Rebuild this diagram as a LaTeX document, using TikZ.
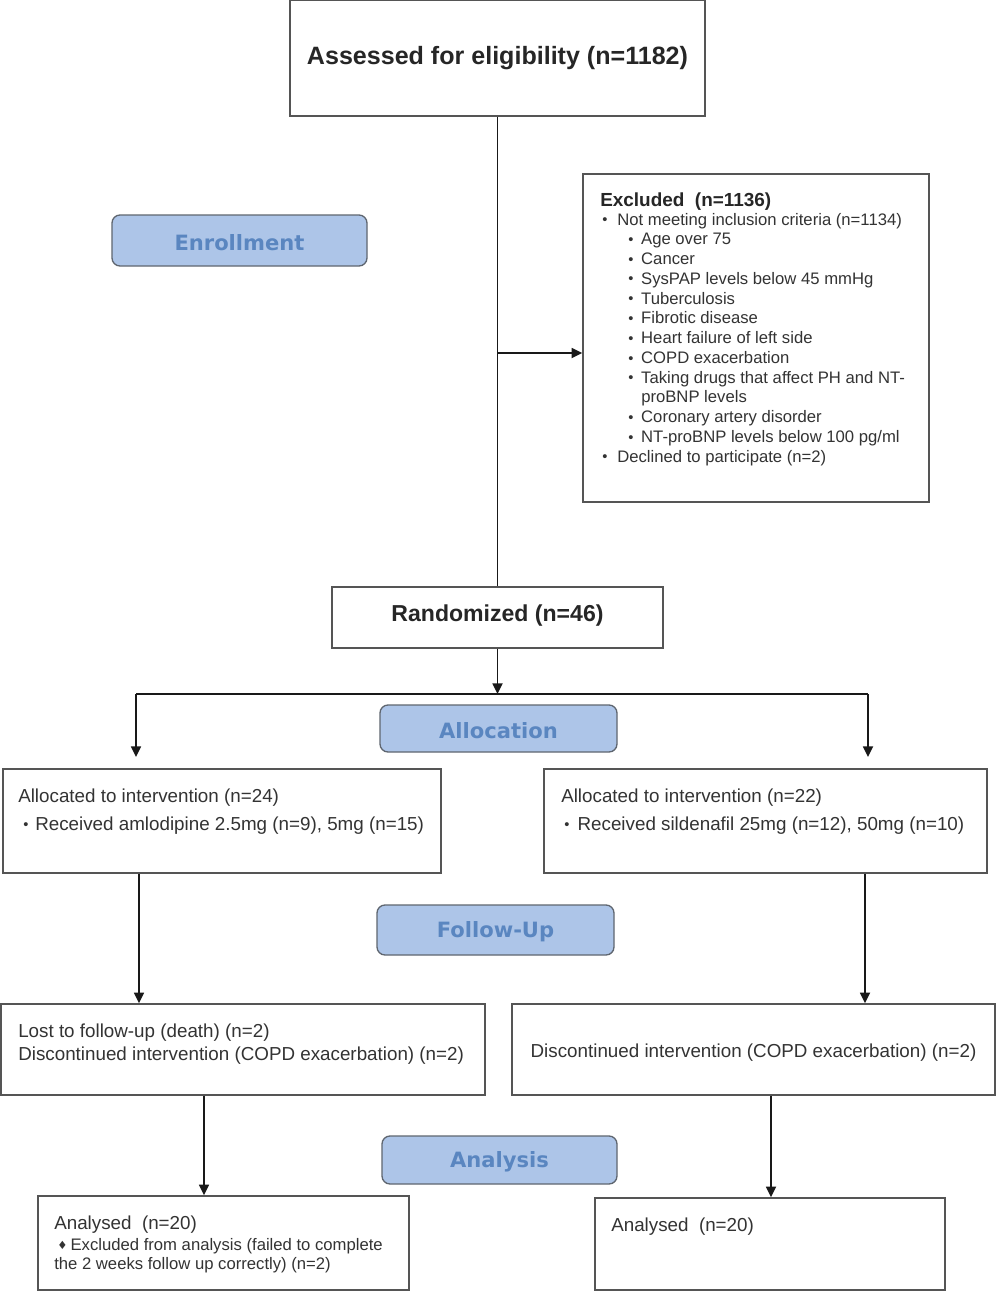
\documentclass[tikz,border=0pt]{standalone}
\usepackage{fontspec}
\setmainfont{Liberation Sans}
\newfontfamily\dejavu{DejaVu Sans}
\usetikzlibrary{arrows.meta,fit}
\definecolor{txt}{HTML}{333333}
\definecolor{bord}{HTML}{555555}
\definecolor{lblfill}{HTML}{ADC5E8}
\definecolor{lbltext}{HTML}{5A86C0}
\definecolor{lblbord}{HTML}{5F6670}
\newcommand\bul[1]{\makebox[#1][l]{\raisebox{0.3pt}{\fontsize{11}{11}\selectfont\textbullet}}}
\newcommand\dia[1]{\makebox[#1][l]{\raisebox{0.5pt}{\dejavu\fontsize{8.5}{8.5}\selectfont ♦}}}
\begin{document}
\begin{tikzpicture}[x=0.75pt,y=-0.75pt,
  box/.style={draw=bord,line width=1.1pt,inner sep=0pt},
  lbl/.style={draw=lblbord,fill=lblfill,rounded corners=6pt,line width=1pt,inner sep=0pt},
  lbltxt/.style={inner sep=0pt,anchor=center,text=lbltext,font=\dejavu\bfseries\fontsize{15.8}{18}\selectfont},
  conn/.style={draw=black!90,line width=1.3pt},
  arr/.style={conn,-{Triangle[length=8pt,width=7.5pt]}},
  t14/.style={anchor=base west,inner sep=0pt,text=txt,font=\fontsize{14.1}{16}\selectfont},
  t12/.style={anchor=base west,inner sep=0pt,text=txt,font=\fontsize{12.5}{15}\selectfont},
  head/.style={anchor=base,inner sep=0pt,text=black!85,font=\bfseries\fontsize{18.8}{22}\selectfont},
]
\useasboundingbox[fill=white] (0,0) rectangle (1000,1292);

% boxes
\node[box, fit={(290,0) (705,116)}] (assess) {};
\node[box, fit={(583,174) (929,502)}] (excl) {};
\node[box, fit={(332,587) (663,648)}] (rand) {};
\node[box, fit={(3,769) (441,873)}] (allocL) {};
\node[box, fit={(544,769) (987,873)}] (allocR) {};
\node[box, fit={(1,1004) (485,1095)}] (lostL) {};
\node[box, fit={(512,1004) (995,1095)}] (lostR) {};
\node[box, fit={(38,1196) (409,1290)}] (anaL) {};
\node[box, fit={(595,1198) (945,1290)}] (anaR) {};

% phase labels
\node[lbl, fit={(112,215) (367,266)}] (enr) {};
\node[lbl, fit={(380,705) (617,752)}] (allo) {};
\node[lbl, fit={(377,905) (614,955)}] (fol) {};
\node[lbl, fit={(382,1136) (617,1184)}] (ana) {};
\node[lbltxt] (enrt) at ([yshift=-1.5pt]enr.center) {Enrollment};
\node[lbltxt] (allot) at ([yshift=-1.5pt]allo.center) {Allocation};
\node[lbltxt] (folt) at ([yshift=-1.5pt]fol.center) {Follow-Up};
\node[lbltxt] (anat) at ([yshift=-1.5pt]ana.center) {Analysis};

% texts
\node[head] (assesst) at (497.5,64) {Assessed for eligibility (n=1182)};
\node[head, font=\bfseries\fontsize{17.3}{20}\selectfont] (randt) at (497.5,621) {Randomized (n=46)};

\node[t12, font=\bfseries\fontsize{14.2}{16}\selectfont, text=black!85] (ex0) at (600,206) {Excluded~ (n=1136)};
\node[t12] (ex1) at (602,225) {\bul{11.3pt}Not meeting inclusion criteria (n=1134)};
\node[t12] (ex2) at (628,244.8) {\bul{9.7pt}Age over 75};
\node[t12] (ex3) at (628,264.5) {\bul{9.7pt}Cancer};
\node[t12] (ex4) at (628,284.3) {\bul{9.7pt}SysPAP levels below 45 mmHg};
\node[t12] (ex5) at (628,304.1) {\bul{9.7pt}Tuberculosis};
\node[t12] (ex6) at (628,323.8) {\bul{9.7pt}Fibrotic disease};
\node[t12] (ex7) at (628,343.6) {\bul{9.7pt}Heart failure of left side};
\node[t12] (ex8) at (628,363.4) {\bul{9.7pt}COPD exacerbation};
\node[t12] (ex9) at (628,383.2) {\bul{9.7pt}Taking drugs that affect PH and NT-};
\node[t12] (ex10) at (641,402.9) {proBNP levels};
\node[t12] (ex11) at (628,422.7) {\bul{9.7pt}Coronary artery disorder};
\node[t12] (ex12) at (628,442.5) {\bul{9.7pt}NT-proBNP levels below 100 pg/ml};
\node[t12] (ex13) at (602,462.2) {\bul{11.3pt}Declined to participate (n=2)};

\node[t14] (alL1) at (18,802) {Allocated to intervention (n=24)};
\node[t14] (alL2) at (23,830) {\bul{9pt}Received amlodipine 2.5mg (n=9), 5mg (n=15)};
\node[t14] (alR1) at (561,802) {Allocated to intervention (n=22)};
\node[t14] (alR2) at (564,830) {\bul{10pt}Received sildenafil 25mg (n=12), 50mg (n=10)};

\node[t14] (loL1) at (18,1037) {Lost to follow-up (death) (n=2)};
\node[t14] (loL2) at (18,1060) {Discontinued intervention (COPD exacerbation) (n=2)};
\node[t14, anchor=base] (loR1) at (753.5,1057) {Discontinued intervention (COPD exacerbation) (n=2)};

\node[t14] (anL1) at (54,1229) {Analysed~ (n=20)};
\node[t12] (anL2) at (57,1250) {\dia{10pt}Excluded from analysis (failed to complete};
\node[t12] (anL3) at (54,1269) {the 2 weeks follow up correctly) (n=2)};
\node[t14] (anR1) at (611,1231) {Analysed~ (n=20)};

% connectors
\coordinate (j1) at (497.5,353);
\coordinate (j2) at (497.5,694);
\coordinate (jl) at (136,694);
\coordinate (jr) at (868,694);
\coordinate (al) at (136,757);
\coordinate (ar) at (868,757);
\coordinate (cL) at (139,0);
\coordinate (cR) at (865,0);
\coordinate (dL) at (204,0);
\coordinate (dR) at (771,0);

\draw[conn] (assess.south) -- (rand.north);
\draw[arr] (j1) -- (excl.west |- j1);
\draw[arr] (rand.south) -- (j2);
\draw[conn] (jl) -- (jr);
\draw[arr] (jl) -- (al);
\draw[arr] (jr) -- (ar);
\draw[arr] (allocL.south -| cL) -- (lostL.north -| cL);
\draw[arr] (allocR.south -| cR) -- (lostR.north -| cR);
\draw[arr] (lostL.south -| dL) -- (anaL.north -| dL);
\draw[arr] (lostR.south -| dR) -- (anaR.north -| dR);
\end{tikzpicture}
\end{document}
